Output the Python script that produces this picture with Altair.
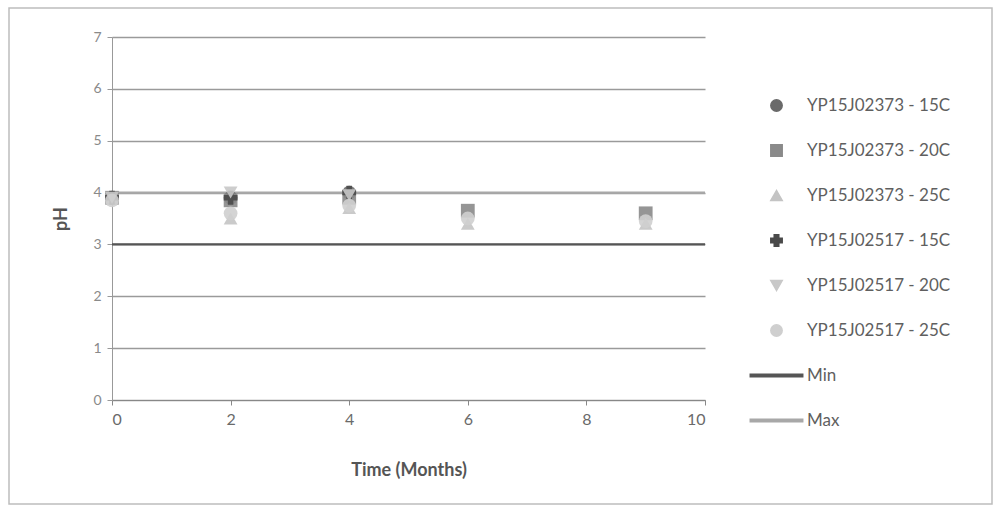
import altair as alt
import pandas as pd

series_names = ["YP15J02373 - 15C", "YP15J02373 - 20C", "YP15J02373 - 25C",
                "YP15J02517 - 15C", "YP15J02517 - 20C", "YP15J02517 - 25C"]
line_names = ["Min", "Max"]

months = [0, 2, 4, 6, 9]
a15 = [3.9, 3.9, 4.0, None, None]
a20 = [3.9, 3.85, 3.9, 3.65, 3.6]
a25 = [3.9, 3.5, 3.7, 3.4, 3.4]
b15 = [3.9, 3.9, 4.0, None, None]
b20 = [3.9, 4.0, 3.95, None, None]
b25 = [3.85, 3.6, 3.75, 3.5, 3.45]

min_ph = [3.0]
max_ph = [4.0]

all_vals = [a15, a20, a25, b15, b20, b25]
rows = []
for name, vals in zip(series_names, all_vals):
    for m, v in zip(months, vals):
        if v is not None:
            rows.append({"series": name, "month": m, "ph": v})
pts = pd.DataFrame(rows)
lines = pd.DataFrame({"series": line_names, "ph": min_ph + max_ph})

domain = series_names + line_names
colors = ["#6a6a6a", "#8a8a8a", "#c4c4c4", "#4a4a4a", "#c8c8c8", "#cfcfcf", "#555555", "#a8a8a8"]
line_path = "M-4.6,-0.22H4.6V0.22H-4.6Z"
shapes = ["circle", "square", "triangle-up", "cross", "triangle-down", "circle", line_path, line_path]

font = "Lato"
tc = "#6a6a6a"

legend = alt.Legend(title=None, orient="none", legendX=656, legendY=60,
                    labelFontSize=17, labelColor="#5f5f5f", labelFont=font,
                    symbolSize=130, rowPadding=26, labelLimit=300, labelOffset=22,
                    gridAlign="all", symbolOpacity=1, values=domain)

x_enc = alt.X("month:Q", scale=alt.Scale(domain=[0, 10], nice=False),
              axis=alt.Axis(values=[0, 2, 4, 6, 8, 10], title="Time (Months)", grid=False,
                            labelFontSize=16, titleFontSize=18, titleFontWeight="bold",
                            labelColor=tc, titleColor="#555555", domainColor="#888888",
                            tickColor="#888888", tickSize=5, labelPadding=6, titlePadding=34,
                            labelFont=font, titleFont=font, format="d"))
y_enc = alt.Y("ph:Q", scale=alt.Scale(domain=[0, 7], nice=False),
              axis=alt.Axis(values=[0, 1, 2, 3, 4, 5, 6, 7], title="pH", grid=True,
                            gridColor="#9a9a9a", gridWidth=1.5, labelFontSize=14,
                            titleFontSize=18, titleFontWeight="bold", labelColor="#8a8a8a",
                            titleColor="#555555", domainColor="#999999", tickColor="#999999",
                            tickSize=5, labelPadding=6, titlePadding=22,
                            labelFont=font, titleFont=font, format="d"))

color_scale = alt.Scale(domain=domain, range=colors)
shape_scale = alt.Scale(domain=domain, range=shapes)

rules = alt.Chart(lines).mark_rule(strokeWidth=2.2).encode(
    y=alt.Y("ph:Q", scale=alt.Scale(domain=[0, 7], nice=False)),
    color=alt.Color("series:N", scale=color_scale, legend=legend),
)

points = alt.Chart(pts).mark_point(filled=True, size=190, opacity=0.9).encode(
    x=x_enc,
    y=y_enc,
    color=alt.Color("series:N", scale=color_scale, legend=legend),
    shape=alt.Shape("series:N", scale=shape_scale, legend=legend),
)

frame = alt.Chart(pd.DataFrame({"a": [0]})).mark_rect(
    fill=None, stroke="#bdbdbd", strokeWidth=1.5).encode(
    x=alt.value(-103), x2=alt.value(880), y=alt.value(-29), y2=alt.value(467))

chart = alt.layer(frame, rules, points).properties(
    width=593, height=363,
    autosize=alt.AutoSizeParams(type="none"),
    padding={"left": 112, "top": 37, "right": 295, "bottom": 114},
    background="white",
).configure_view(stroke=None)

chart.save("out.html", embed_options={"renderer": "svg", "actions": False})
